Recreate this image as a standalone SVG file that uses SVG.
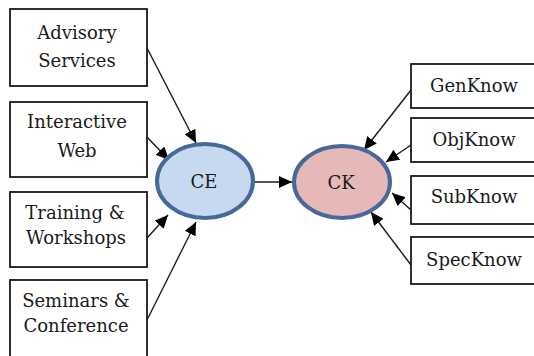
<svg xmlns="http://www.w3.org/2000/svg" width="534" height="356" viewBox="0 0 534 356">
<style>
.box{fill:#fff;stroke:#1a1a1a;stroke-width:1.8}
.t{font-family:"DejaVu Serif","Liberation Serif",serif;font-size:18px;fill:#1a1a1a;text-anchor:middle}
.e{stroke:#46699a;stroke-width:4}
.c{stroke:#1a1a1a;stroke-width:1.4;fill:none;marker-end:url(#ah)}
</style>
<defs>
<marker id="ah" markerUnits="userSpaceOnUse" markerWidth="14" markerHeight="12" refX="13" refY="6" orient="auto">
<path d="M0,0 L13,6 L0,12 Z" fill="#000"/>
</marker>
</defs>
<rect width="534" height="356" fill="#fff"/>
<g id="connectors">
<line class="c" x1="147" y1="48" x2="196" y2="143"/>
<line class="c" x1="147" y1="137" x2="169" y2="160"/>
<line class="c" x1="147" y1="238" x2="168" y2="215"/>
<line class="c" x1="147" y1="320" x2="196" y2="222"/>
<line class="c" x1="255" y1="182" x2="292" y2="182"/>
<line class="c" x1="411" y1="90" x2="364" y2="150"/>
<line class="c" x1="411" y1="145" x2="386" y2="162"/>
<line class="c" x1="411" y1="210" x2="392" y2="193"/>
<line class="c" x1="411" y1="265" x2="371" y2="212"/>
</g>
<g id="advisory"><rect class="box" x="10" y="9" width="137" height="77"/><text class="t" x="77" y="39">Advisory</text><text class="t" x="77" y="67">Services</text></g>
<g id="interactive"><rect class="box" x="10" y="102" width="137" height="75"/><text class="t" x="77" y="128">Interactive</text><text class="t" x="77" y="157">Web</text></g>
<g id="training"><rect class="box" x="10" y="192" width="137" height="75"/><text class="t" x="75" y="219">Training &amp;</text><text class="t" x="76" y="244">Workshops</text></g>
<g id="seminars"><rect class="box" x="10" y="280" width="137" height="84"/><text class="t" x="76" y="307">Seminars &amp;</text><text class="t" x="76" y="332">Conference</text></g>
<g id="CE"><ellipse class="e" cx="205" cy="181" rx="48" ry="37" fill="#c6d9f0"/><text class="t" x="204" y="188">CE</text></g>
<g id="CK"><ellipse class="e" cx="342" cy="182" rx="48" ry="36" fill="#e6b8b7"/><text class="t" x="341" y="189">CK</text></g>
<g id="genknow"><rect class="box" x="411" y="64" width="130" height="44"/><text class="t" x="474" y="92">GenKnow</text></g>
<g id="objknow"><rect class="box" x="411" y="118" width="130" height="44"/><text class="t" x="474" y="146">ObjKnow</text></g>
<g id="subknow"><rect class="box" x="411" y="176" width="130" height="48"/><text class="t" x="474" y="203">SubKnow</text></g>
<g id="specknow"><rect class="box" x="411" y="237" width="130" height="47"/><text class="t" x="474" y="266">SpecKnow</text></g>
</svg>
